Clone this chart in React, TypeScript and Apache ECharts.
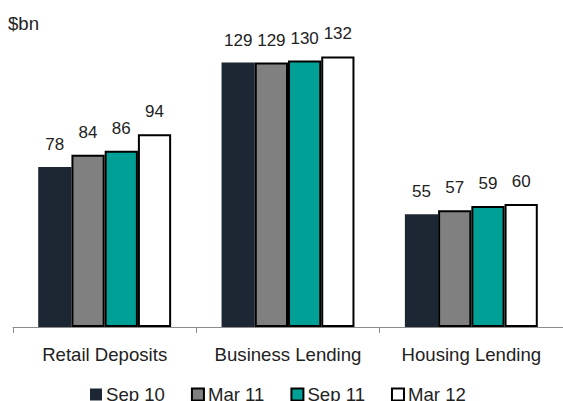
import React, { useEffect, useRef } from "react";
import * as echarts from "echarts";

const categories = ["Retail Deposits", "Business Lending", "Housing Lending"];
const seriesNames = ["Sep 10", "Mar 11", "Sep 11", "Mar 12"];
const sep10 = [78, 129, 55];
const mar11 = [84, 129, 57];
const sep11 = [86, 130, 59];
const mar12 = [94, 132, 60];
const seriesData = [sep10, mar11, sep11, mar12];
const colors = ["#1c2733", "#808080", "#00a096", "#ffffff"];
const unitLabel = "$bn";

export default function App() {
  const ref = useRef<HTMLDivElement>(null);
  useEffect(() => {
    if (!ref.current) return;
    const chart = echarts.init(ref.current, undefined, { renderer: "svg" });
    const font = "'Liberation Sans', Arial, sans-serif";
    chart.setOption({
      animation: false,
      backgroundColor: "#ffffff",
      textStyle: { fontFamily: font },
      graphic: [
        {
          type: "text",
          left: 8,
          top: 14,
          style: { text: unitLabel, fontSize: 18.6, fill: "#222", fontFamily: font },
        },
      ],
      legend: {
        left: 90,
        top: 385,
        padding: 0,
        itemWidth: 12,
        itemHeight: 12,
        itemGap: 26,
        icon: "rect",
        data: seriesNames,
        textStyle: {
          fontSize: 18.6,
          lineHeight: 16,
          color: "#222",
          fontFamily: font,
          padding: [0, 0, 0, -1],
        },
      },
      grid: { left: 13, top: 19.5, width: 553, bottom: 74, containLabel: false },
      xAxis: {
        type: "category",
        data: categories,
        axisLine: { lineStyle: { color: "#8c8c8c", width: 1 } },
        axisTick: { show: true, length: 6, lineStyle: { color: "#8c8c8c" } },
        axisLabel: {
          interval: 0,
          hideOverlap: false,
          fontSize: 18.6,
          color: "#222",
          margin: 17.5,
          fontFamily: font,
        },
      },
      yAxis: {
        type: "value",
        min: 0,
        max: 150,
        show: false,
        splitLine: { show: false },
      },
      series: seriesNames.map((name, i) => ({
        name,
        type: "bar",
        data: seriesData[i],
        barGap: "0%",
        barCategoryGap: "27.5%",
        itemStyle: {
          color: colors[i],
          borderColor: i === 0 ? colors[0] : "#000000",
          borderWidth: i === 0 ? 0 : 2,
        },
        label: {
          show: true,
          position: "top",
          distance: 14,
          fontSize: 17,
          color: "#222",
          fontFamily: font,
        },
      })),
    });
    return () => chart.dispose();
  }, []);
  return (
    <div
      ref={ref}
      style={{ position: "fixed", left: 0, top: 0, width: 563, height: 401 }}
    />
  );
}
